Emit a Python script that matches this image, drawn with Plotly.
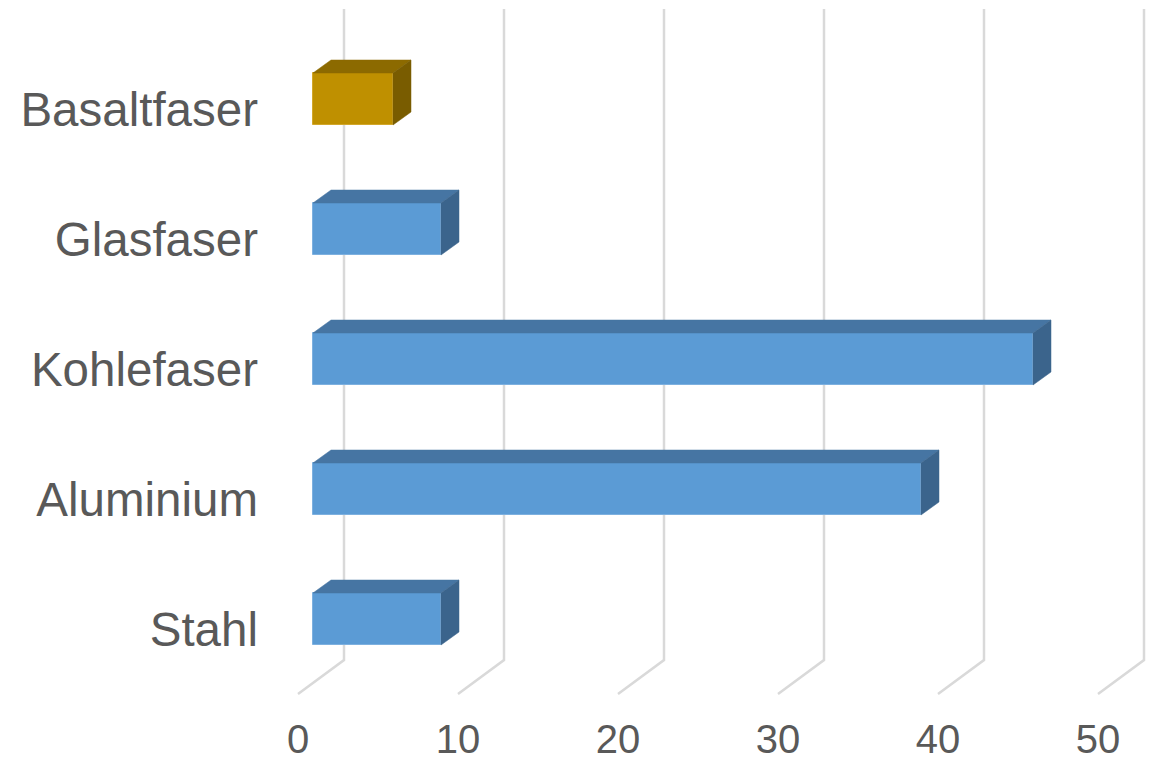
import plotly.graph_objects as go

# ---- data ----
categories = ["Stahl", "Aluminium", "Kohlefaser", "Glasfaser", "Basaltfaser"]
values = [8, 38, 45, 8, 5]
front_colors = ["#5B9BD5", "#5B9BD5", "#5B9BD5", "#5B9BD5", "#BF9000"]
top_colors = ["#4675A3", "#4675A3", "#4675A3", "#4675A3", "#8C6A00"]
side_colors = ["#3B648C", "#3B648C", "#3B648C", "#3B648C", "#795C00"]
edge_colors = ["#7DB0DF", "#7DB0DF", "#7DB0DF", "#7DB0DF", "#D2A72A"]
x_ticks = [0, 10, 20, 30, 40, 50]
x_tick_text = ["0", "10", "20", "30", "40", "50"]

# ---- oblique 3D geometry (in axis units) ----
BAR_H = 0.4          # front face height in category units
DX = 18 / 16         # depth offset of bar along x
DY = 13 / 130        # depth offset of bar along y
WALL = 31 / 16       # back wall offset from front-face plane
FLOOR_FRONT = -15 / 16
FLOOR_Y_BACK = -41 / 130
FLOOR_Y_FRONT = -75 / 130
GRID_TOP = 610 / 130

fig = go.Figure()

# front faces
fig.add_trace(go.Bar(
    y=list(range(len(categories))), x=values, base=0, orientation="h",
    width=BAR_H, marker=dict(color=front_colors, line=dict(color=edge_colors, width=1)),
    showlegend=False, hoverinfo="skip"))

# top and side faces
for i, v in enumerate(values):
    yt = i + BAR_H / 2
    yb = i - BAR_H / 2
    fig.add_trace(go.Scatter(
        x=[0, v, v + DX, DX, 0], y=[yt, yt, yt + DY, yt + DY, yt],
        fill="toself", fillcolor=top_colors[i], mode="lines",
        line=dict(color=top_colors[i], width=0.5), showlegend=False, hoverinfo="skip"))
    fig.add_trace(go.Scatter(
        x=[v, v + DX, v + DX, v, v], y=[yb, yb + DY, yt + DY, yt, yb],
        fill="toself", fillcolor=side_colors[i], mode="lines",
        line=dict(color=side_colors[i], width=0.5), showlegend=False, hoverinfo="skip"))

# gridlines on back wall and floor
shapes = []
for t in x_ticks:
    xb = t + WALL
    xf = t + FLOOR_FRONT
    shapes.append(dict(
        type="path", xref="x", yref="y", layer="below",
        path=f"M {xb},{GRID_TOP} L {xb},{FLOOR_Y_BACK} L {xf},{FLOOR_Y_FRONT}",
        line=dict(color="#D9D9D9", width=2.5)))

fig.update_layout(
    width=1160, height=762,
    margin=dict(l=270, r=0, t=0, b=50),
    paper_bgcolor="white", plot_bgcolor="white",
    shapes=shapes,
    xaxis=dict(range=[-43 / 16, 847 / 16], showgrid=False, zeroline=False,
               showline=False, tickmode="array",
               tickvals=[t + FLOOR_FRONT for t in x_ticks], ticktext=x_tick_text,
               tickfont=dict(family="Liberation Sans, Arial", size=40, color="#595959"),
               ticks="", fixedrange=True),
    yaxis=dict(range=[-93 / 130, 619 / 130], showgrid=False, zeroline=False,
               showline=False, tickmode="array",
               tickvals=list(range(len(categories))), ticktext=categories,
               tickfont=dict(family="Liberation Sans, Arial", size=47.5, color="#595959"),
               ticks="", ticklabelshift=10, ticklabelstandoff=11, fixedrange=True),
    bargap=0,
)

fig.write_html("out.html")
